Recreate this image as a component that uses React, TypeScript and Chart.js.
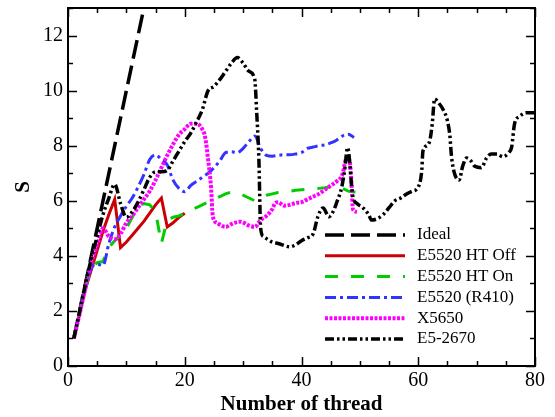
import React, { useEffect, useRef } from "react";
import { Chart, registerables } from "chart.js";
Chart.register(...registerables);

const xTicks = [0, 20, 40, 60, 80];
const yTicks = [0, 2, 4, 6, 8, 10, 12];
const seriesLabels = ["Ideal", "E5520 HT Off", "E5520 HT On", "E5520 (R410)", "X5650", "E5-2670"];

const idealX = [1, 14];
const idealY = [1, 14];

const htOffX = [1, 2, 3, 4, 5, 6, 7, 8, 9, 10, 11, 12, 13, 14, 15, 16, 17, 18, 19, 20];
const htOffY = [1, 1.9, 2.8, 3.5, 4.2, 4.9, 5.5, 6.05, 4.3, 4.5, 4.75, 5.0, 5.25, 5.55, 5.85, 6.1, 5.05, 5.2, 5.4, 5.55];

const htOnX = [1, 2, 3, 4, 5, 6, 7, 8, 9, 10, 11, 12, 13, 14, 15, 16, 17, 18, 19, 20, 21, 22, 23, 24, 25, 26, 27, 28, 29, 30, 31, 32, 33, 34, 35, 36, 37, 38, 39, 40, 41, 42, 43, 44, 45, 46, 47, 48, 49, 50];
const htOnY = [1, 1.95, 2.85, 3.55, 3.75, 3.8, 4.3, 4.55, 4.75, 5.0, 5.4, 5.8, 5.9, 5.85, 5.6, 4.45, 5.3, 5.4, 5.45, 5.55, 5.65, 5.75, 5.85, 5.95, 6.05, 6.15, 6.25, 6.32, 6.3, 6.2, 6.1, 6.0, 6.1, 6.2, 6.25, 6.3, 6.33, 6.35, 6.38, 6.4, 6.41, 6.42, 6.45, 6.47, 6.5, 6.5, 6.45, 6.35, 6.32, 6.3];

const r410X = [1, 2, 3, 4, 5, 6, 7, 8, 9, 10, 11, 12, 13, 14, 15, 16, 17, 18, 19, 20, 21, 22, 23, 24, 25, 26, 27, 28, 29, 30, 31, 32, 33, 34, 35, 36, 37, 38, 39, 40, 41, 42, 43, 44, 45, 46, 47, 48, 49];
const r410Y = [1, 1.95, 2.85, 3.55, 3.7, 3.65, 4.45, 5.05, 5.45, 5.8, 6.1, 6.5, 6.95, 7.5, 7.67, 7.5, 7.3, 6.75, 6.45, 6.33, 6.55, 6.7, 6.85, 7.0, 7.2, 7.45, 7.75, 7.78, 7.75, 7.9, 8.15, 8.35, 7.9, 7.65, 7.62, 7.65, 7.67, 7.67, 7.7, 7.75, 7.9, 7.95, 8.0, 8.03, 8.1, 8.2, 8.35, 8.42, 8.3];

const x5650X = [1, 2, 3, 4, 5, 6, 7, 8, 9, 10, 11, 12, 13, 14, 15, 16, 17, 18, 19, 20, 21, 22, 23, 23.5, 24, 24.5, 24.8, 25.5, 27, 28, 29.5, 31, 32, 33, 34, 35, 35.5, 36, 37, 38, 39, 40, 41, 42, 43, 44, 45, 46, 47, 47.8, 48.3, 48.6, 48.8, 49.5];
const x5650Y = [1, 1.9, 2.85, 3.75, 4.4, 5.0, 4.7, 4.6, 4.8, 5.2, 5.45, 5.75, 6.05, 6.35, 6.75, 7.2, 7.65, 8.05, 8.4, 8.6, 8.8, 8.8, 8.6, 8.3, 7.5, 6.5, 5.45, 5.2, 5.05, 5.15, 5.24, 5.1, 5.05, 5.3, 5.45, 5.7, 5.92, 5.95, 5.82, 5.85, 5.92, 5.95, 6.05, 6.15, 6.25, 6.4, 6.55, 6.7, 6.95, 7.6, 7.35, 6.5, 5.7, 5.6];

const e52670X = [1, 2, 3, 4, 5, 6, 7, 8, 9, 10, 11, 12, 13, 14, 15, 16, 17, 18, 19, 20, 21, 22, 23, 24, 25, 26, 27, 28, 29, 30, 31, 32, 32.3, 32.7, 33, 33.5, 35, 36, 38, 39, 40, 41, 42, 42.8, 43.7, 44.7, 45.4, 46, 46.9, 47.4, 47.9, 48.8, 49.5, 50.5, 51.5, 52, 53, 54, 55, 56, 57, 58, 59, 60, 60.6, 60.8, 61.5, 62, 62.4, 62.8, 63.5, 64.3, 65, 65.4, 65.7, 66.2, 67, 67.6, 68.3, 69, 69.7, 70.8, 71.7, 72.5, 73.5, 74.5, 75.5, 76, 76.5, 77.3, 78.5, 80];
const e52670Y = [1, 2, 3, 3.9, 4.7, 5.5, 6.1, 6.6, 5.9, 5.4, 5.6, 5.95, 6.4, 6.85, 7.05, 7.05, 7.1, 7.45, 7.8, 8.15, 8.45, 8.85, 9.3, 10.0, 10.15, 10.4, 10.7, 11.0, 11.2, 11.0, 10.7, 10.4, 9.3, 7.5, 5.0, 4.7, 4.5, 4.45, 4.33, 4.4, 4.55, 4.65, 4.8, 5.42, 5.74, 5.42, 5.6, 5.92, 6.5, 7.13, 7.93, 6.15, 5.9, 5.75, 5.5, 5.3, 5.35, 5.5, 5.75, 6.0, 6.1, 6.25, 6.35, 6.5, 7.1, 7.8, 8.0, 8.2, 8.8, 9.7, 9.55, 9.3, 8.9, 8.4, 7.6, 7.0, 6.75, 7.25, 7.55, 7.45, 7.25, 7.2, 7.55, 7.7, 7.7, 7.6, 7.75, 7.95, 8.8, 9.05, 9.2, 9.2];

const pts = (xs: number[], ys: number[]) => xs.map((x, i) => ({ x, y: ys[i] }));

const SERIF = "'Liberation Serif', 'Times New Roman', serif";

const decorPlugin = {
  id: "decor",
  afterDraw(chart: any) {
    const { ctx, chartArea } = chart;
    const { left, right, top, bottom } = chartArea;
    const xs = chart.scales.x;
    const ys = chart.scales.y;
    ctx.save();
    ctx.strokeStyle = "#000";
    ctx.lineWidth = 1.5;
    ctx.setLineDash([]);
    ctx.beginPath();
    for (let v = 0; v <= 80; v += 5) {
      const px = Math.round(xs.getPixelForValue(v)) + 0.5;
      const len = v % 20 === 0 ? 9 : 5;
      ctx.moveTo(px, bottom);
      ctx.lineTo(px, bottom - len);
      ctx.moveTo(px, top);
      ctx.lineTo(px, top + len);
    }
    for (let v = 0; v <= 13; v += 1) {
      const py = Math.round(ys.getPixelForValue(v)) + 0.5;
      const len = v % 2 === 0 ? 9 : 5;
      ctx.moveTo(left, py);
      ctx.lineTo(left + len, py);
      ctx.moveTo(right, py);
      ctx.lineTo(right - len, py);
    }
    ctx.stroke();
    ctx.lineWidth = 2;
    ctx.strokeRect(left, top, right - left, bottom - top);

    // axis titles
    ctx.fillStyle = "#000";
    ctx.font = `bold 21px ${SERIF}`;
    ctx.textAlign = "center";
    ctx.textBaseline = "alphabetic";
    ctx.fillText("Number of thread", (left + right) / 2, 410);
    ctx.save();
    ctx.translate(29, (top + bottom) / 2);
    ctx.rotate(-Math.PI / 2);
    ctx.fillText("S", 0, 0);
    ctx.restore();

    // legend
    const lx0 = right - 210;
    const lx1 = right - 130;
    const ly0 = top + 227;
    const step = 20.8;
    ctx.font = `17px ${SERIF}`;
    ctx.textAlign = "left";
    ctx.textBaseline = "middle";
    chart.data.datasets.forEach((ds: any, i: number) => {
      const yy = ly0 + i * step;
      ctx.save();
      ctx.strokeStyle = ds.borderColor;
      ctx.lineWidth = ds.borderWidth;
      ctx.setLineDash(ds.borderDash || []);
      ctx.lineCap = "butt";
      ctx.beginPath();
      ctx.moveTo(lx0, yy);
      ctx.lineTo(lx1, yy);
      ctx.stroke();
      ctx.restore();
      ctx.fillStyle = "#000";
      ctx.fillText(ds.label, right - 118, yy);
    });
    ctx.restore();
  },
};

export default function App() {
  const ref = useRef<HTMLCanvasElement>(null);
  useEffect(() => {
    const styles = [
      { color: "#000000", width: 3.5, dash: [19, 7], tension: 0 },
      { color: "#cc0000", width: 3, dash: [], tension: 0 },
      { color: "#00cc00", width: 3, dash: [13, 13], tension: 0 },
      { color: "#3333ff", width: 3, dash: [11, 4, 3, 4], tension: 0.3 },
      { color: "#ff00ff", width: 4, dash: [3, 1.5], tension: 0.3 },
      { color: "#000000", width: 3.5, dash: [9, 3, 2.5, 3, 2.5, 3], tension: 0.3 },
    ];
    const dataSets = [
      pts(idealX, idealY),
      pts(htOffX, htOffY),
      pts(htOnX, htOnY),
      pts(r410X, r410Y),
      pts(x5650X, x5650Y),
      pts(e52670X, e52670Y),
    ];
    const chart = new Chart(ref.current as HTMLCanvasElement, {
      type: "line",
      data: {
        datasets: dataSets.map((d, i) => ({
          label: seriesLabels[i],
          data: d,
          borderColor: styles[i].color,
          backgroundColor: styles[i].color,
          borderWidth: styles[i].width,
          borderDash: styles[i].dash,
          tension: styles[i].tension,
          cubicInterpolationMode: styles[i].tension > 0 ? "monotone" : "default",
          pointRadius: 0,
          fill: false,
          order: 5 - i,
        })),
      },
      options: {
        animation: false,
        responsive: false,
        layout: { padding: { top: 8, right: 20, left: 0, bottom: 0 } },
        plugins: { legend: { display: false }, tooltip: { enabled: false } },
        scales: {
          x: {
            type: "linear",
            min: 0,
            max: 80,
            grid: { display: false, drawTicks: false },
            border: { display: false },
            ticks: { color: "#000", font: { family: SERIF, size: 20 }, padding: 3, maxRotation: 0, autoSkip: false },
            afterBuildTicks: (s: any) => {
              s.ticks = xTicks.map((v) => ({ value: v }));
            },
            afterFit: (s: any) => {
              s.height = 51;
              s.paddingLeft = 0;
              s.paddingRight = 0;
            },
          },
          y: {
            type: "linear",
            min: 0,
            max: 13,
            grid: { display: false, drawTicks: false },
            border: { display: false },
            ticks: { color: "#000", font: { family: SERIF, size: 20 }, padding: 5, autoSkip: false },
            afterBuildTicks: (s: any) => {
              s.ticks = yTicks.map((v) => ({ value: v }));
            },
            afterFit: (s: any) => {
              s.width = 68;
              s.paddingTop = 0;
              s.paddingBottom = 0;
            },
          },
        },
      } as any,
      plugins: [decorPlugin],
    });
    return () => chart.destroy();
  }, []);
  return (
    <div style={{ position: "absolute", left: 0, top: 0, width: 555, height: 417, background: "#fff" }}>
      <canvas ref={ref} width={555} height={417} style={{ display: "block" }} />
    </div>
  );
}
